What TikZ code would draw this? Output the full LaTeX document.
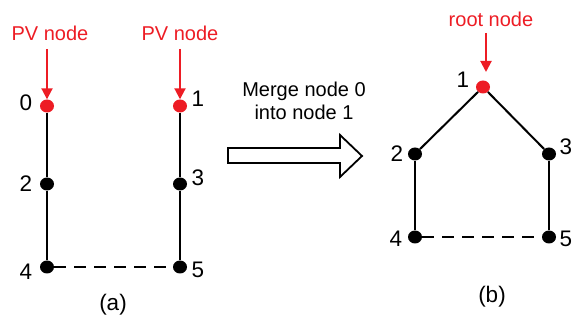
\documentclass[tikz,border=0pt]{standalone}
\usepackage{fontspec}
\setmainfont{Liberation Sans}
\usetikzlibrary{arrows.meta,shapes.geometric}
\definecolor{pvred}{RGB}{237,28,36}
\begin{document}
\begin{tikzpicture}[x=1pt,y=-1pt,
  dot/.style={ellipse,fill=black,inner sep=0pt,minimum width=14pt,minimum height=13pt},
  reddot/.style={dot,fill=pvred},
  lbl/.style={font=\fontsize{20}{22}\selectfont,inner sep=0pt},
  num/.style={font=\fontsize{22.5}{24}\selectfont,inner sep=0pt},
  redlbl/.style={lbl,text=pvred},
  edge/.style={line width=2pt},
  dashedge/.style={line width=1.6pt,dash pattern=on 12pt off 8pt},
  redarrow/.style={draw=pvred,line width=2pt,-{Triangle[length=11pt,width=11pt]}}
]
\useasboundingbox (0,0) rectangle (573,320);
% (a)
\node[reddot] (n0) at (47,106) {};
\node[dot] (n2) at (47,184) {};
\node[dot] (n4) at (47,267) {};
\node[reddot] (n1) at (180,106) {};
\node[dot] (n3) at (180,184) {};
\node[dot] (n5) at (180,267) {};
\draw[edge] (n0) -- (n2);
\draw[edge] (n2) -- (n4);
\draw[edge] (n1) -- (n3);
\draw[edge] (n3) -- (n5);
\draw[dashedge] (n4) -- (n5);
\node[num] (l0) at (26,103) {0};
\node[num] (l2) at (26,184) {2};
\node[num] (l4) at (26,272) {4};
\node[num] (l1) at (198,99) {1};
\node[num] (l3) at (198,178) {3};
\node[num] (l5) at (198,270) {5};
\node[redlbl] (pv0) at (50,33) {PV node};
\node[redlbl] (pv1) at (180,33) {PV node};
\coordinate (s0) at (47,49);
\coordinate (s1) at (180,49);
\draw[redarrow] (s0) -- (n0.north);
\draw[redarrow] (s1) -- (n1.north);
\node[num] (capa) at (113,305) {(a)};
% merge arrow
\node[lbl,align=center] (merge) at (304,101) {Merge node 0\\[1pt]into node 1};
\draw[line width=1.8pt,fill=white,line join=miter]
  (228,148) -- (340,148) -- (340,135) -- (362,156) -- (340,177) -- (340,163) -- (228,163) -- cycle;
% (b)
\node[reddot] (m1) at (483,87) {};
\node[dot] (m2) at (415,154) {};
\node[dot] (m3) at (549,154) {};
\node[dot] (m4) at (415,237) {};
\node[dot] (m5) at (549,237) {};
\draw[edge] (m1) -- (m2);
\draw[edge] (m1) -- (m3);
\draw[edge] (m2) -- (m4);
\draw[edge] (m3) -- (m5);
\draw[dashedge] (m4) -- (m5);
\node[num] (k1) at (463,80) {1};
\node[num] (k2) at (397,154) {2};
\node[num] (k3) at (566,147) {3};
\node[num] (k4) at (396,239) {4};
\node[num] (k5) at (566,239) {5};
\node[redlbl] (root) at (491,19) {root node};
\coordinate (s2) at (486,33);
\draw[redarrow] (s2) -- (486,72);
\node[num] (capb) at (492,297) {(b)};
\end{tikzpicture}
\end{document}
